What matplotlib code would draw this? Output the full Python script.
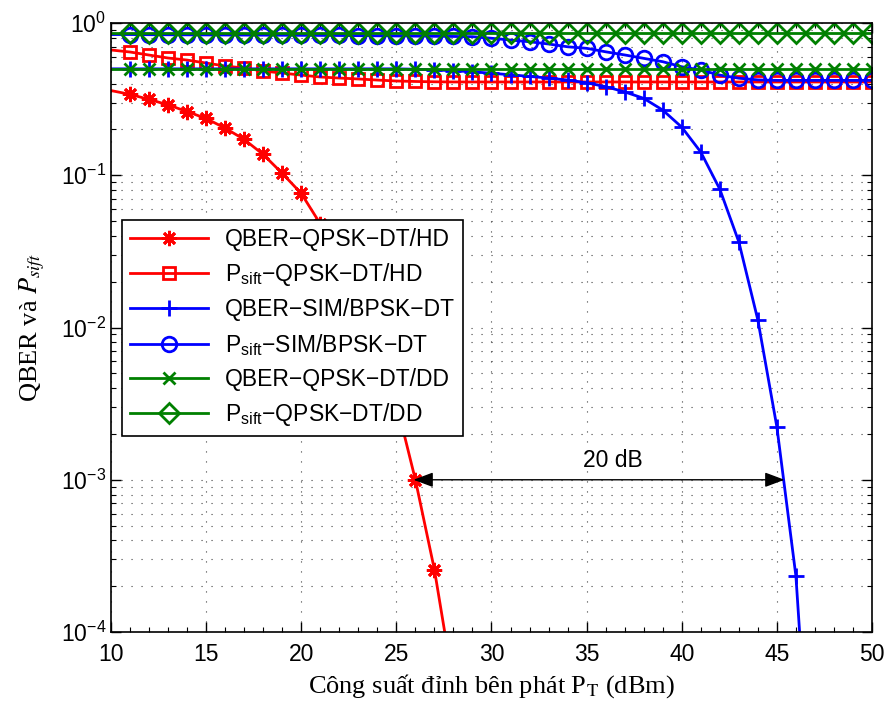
import matplotlib
matplotlib.use("Agg")
import matplotlib.pyplot as plt
from matplotlib.ticker import MultipleLocator, LogLocator, NullFormatter

plt.rcParams['font.family'] = ['Liberation Sans', 'DejaVu Sans']
plt.rcParams['mathtext.fontset'] = 'custom'
plt.rcParams['mathtext.rm'] = 'Liberation Sans'
plt.rcParams['mathtext.it'] = 'Liberation Sans:italic'

# x axis: peak transmit power (dBm)
pt = list(range(10, 51))

# QBER - QPSK - DT/HD (red, asterisks)
qber_hd = [0.36, 0.34, 0.315, 0.29, 0.262, 0.236, 0.204, 0.172, 0.137, 0.103, 0.076,
           0.048, 0.0275, 0.0148, 0.0074, 0.0032, 1.0e-3, 2.57e-4, 4.5e-5]
# P_sift - QPSK - DT/HD (red, squares)
psift_hd = [0.665, 0.645, 0.616, 0.589, 0.571, 0.546, 0.522, 0.506, 0.484, 0.469, 0.455,
            0.442, 0.435, 0.429, 0.422, 0.416, 0.413, 0.411, 0.41, 0.41, 0.41,
            0.41, 0.41, 0.41, 0.41, 0.41, 0.41, 0.41, 0.41, 0.41, 0.41,
            0.41, 0.41, 0.41, 0.41, 0.41, 0.41, 0.41, 0.41, 0.41, 0.41]
# QBER - SIM/BPSK - DT (blue, plus)
qber_sim = [0.5, 0.5, 0.5, 0.5, 0.5, 0.5, 0.5, 0.5, 0.5, 0.5, 0.5,
            0.5, 0.5, 0.5, 0.5, 0.5, 0.497, 0.492, 0.486, 0.478, 0.468,
            0.457, 0.446, 0.435, 0.422, 0.405, 0.382, 0.353, 0.32, 0.268, 0.207,
            0.142, 0.081, 0.0365, 0.0112, 0.00222, 2.33e-4, 3e-6]
# P_sift - SIM/BPSK - DT (blue, circles)
psift_sim = [0.84, 0.84, 0.838, 0.837, 0.836, 0.835, 0.834, 0.833, 0.832, 0.831, 0.83,
             0.829, 0.828, 0.826, 0.824, 0.822, 0.82, 0.818, 0.816, 0.813, 0.794,
             0.773, 0.753, 0.728, 0.698, 0.682, 0.647, 0.617, 0.586, 0.557, 0.516,
             0.491, 0.455, 0.434, 0.423, 0.42, 0.42, 0.42, 0.42, 0.42, 0.42]
# QBER - QPSK - DT/DD (green, x)
qber_dd = [0.5] * 41
# P_sift - QPSK - DT/DD (green, diamonds)
psift_dd = [0.86] * 41

series = [
    (qber_hd, 'red', (8, 2, 0), 11, 'QBER\u2212QPSK\u2212DT/HD'),
    (psift_hd, 'red', 's', 9, 'P$_{\\mathdefault{sift}}$\u2212QPSK\u2212DT/HD'),
    (qber_sim, 'blue', '+', 12, 'QBER\u2212SIM/BPSK\u2212DT'),
    (psift_sim, 'blue', 'o', 10.5, 'P$_{\\mathdefault{sift}}$\u2212SIM/BPSK\u2212DT'),
    (qber_dd, '#008000', 'x', 8, 'QBER\u2212QPSK\u2212DT/DD'),
    (psift_dd, '#008000', 'D', 10, 'P$_{\\mathdefault{sift}}$\u2212QPSK\u2212DT/DD'),
]

fig = plt.figure(figsize=(8.92, 7.08), dpi=100)
ax = fig.add_axes([0.1244, 0.1073, 0.8532, 0.8602])

for vals, col, mk, ms, lab in series:
    ax.plot(pt[:len(vals)], vals, color=col, lw=2, marker=mk, ms=ms,
            mfc='none', mew=2, markevery=list(range(1, len(vals))), label=lab)

ax.set_yscale('log')
ax.set_xlim(10, 50)
ax.set_ylim(1e-4, 1)
ax.xaxis.set_major_locator(MultipleLocator(5))
ax.xaxis.set_minor_locator(MultipleLocator(1))
ax.yaxis.set_major_locator(LogLocator(base=10, numticks=10))
ax.yaxis.set_minor_locator(LogLocator(base=10, subs=range(2, 10), numticks=10))
ax.yaxis.set_minor_formatter(NullFormatter())
ax.tick_params(which='both', direction='in', top=True, right=True, labelsize=16.5)
ax.tick_params(which='major', length=7, width=1)
ax.tick_params(which='minor', length=3.5, width=0.8)
ax.tick_params(axis='x', pad=8)
ax.grid(True, which='major', color='0.25', ls=(0, (1, 8)), lw=0.8)
ax.grid(True, which='minor', axis='y', color='0.25', ls=(0, (1, 8)), lw=0.8)
for s in ax.spines.values():
    s.set_linewidth(1.2)

ax.set_xlabel('Công suất đỉnh bên phát P$_\\mathrm{T}$ (dBm)', fontsize=19,
              family=['Liberation Serif', 'DejaVu Serif'], math_fontfamily='stix', labelpad=4)
ax.set_ylabel('QBER và $P_{sift}$', fontsize=19,
              family=['Liberation Serif', 'DejaVu Serif'], math_fontfamily='stix', labelpad=10)

# 20 dB gap between the two QBER curves at 1e-3
ax.annotate('', xy=(25.9, 1e-3), xytext=(45.4, 1e-3),
            arrowprops=dict(arrowstyle='<|-|>,head_length=1.2,head_width=0.45',
                            color='black', lw=1, shrinkA=0, shrinkB=0))
ax.text(36.4, 1.33e-3, '20 dB', fontsize=16.5, ha='center', va='center')

leg = ax.legend(loc='upper left', bbox_to_anchor=(0.0145, 0.677), fontsize=16.5,
                handlelength=3.4, borderpad=0.35, labelspacing=0.45, handletextpad=0.75,
                borderaxespad=0, fancybox=False, framealpha=1, edgecolor='black')
leg.get_frame().set_linewidth(1.2)

fig.savefig('out.png', dpi=100)
